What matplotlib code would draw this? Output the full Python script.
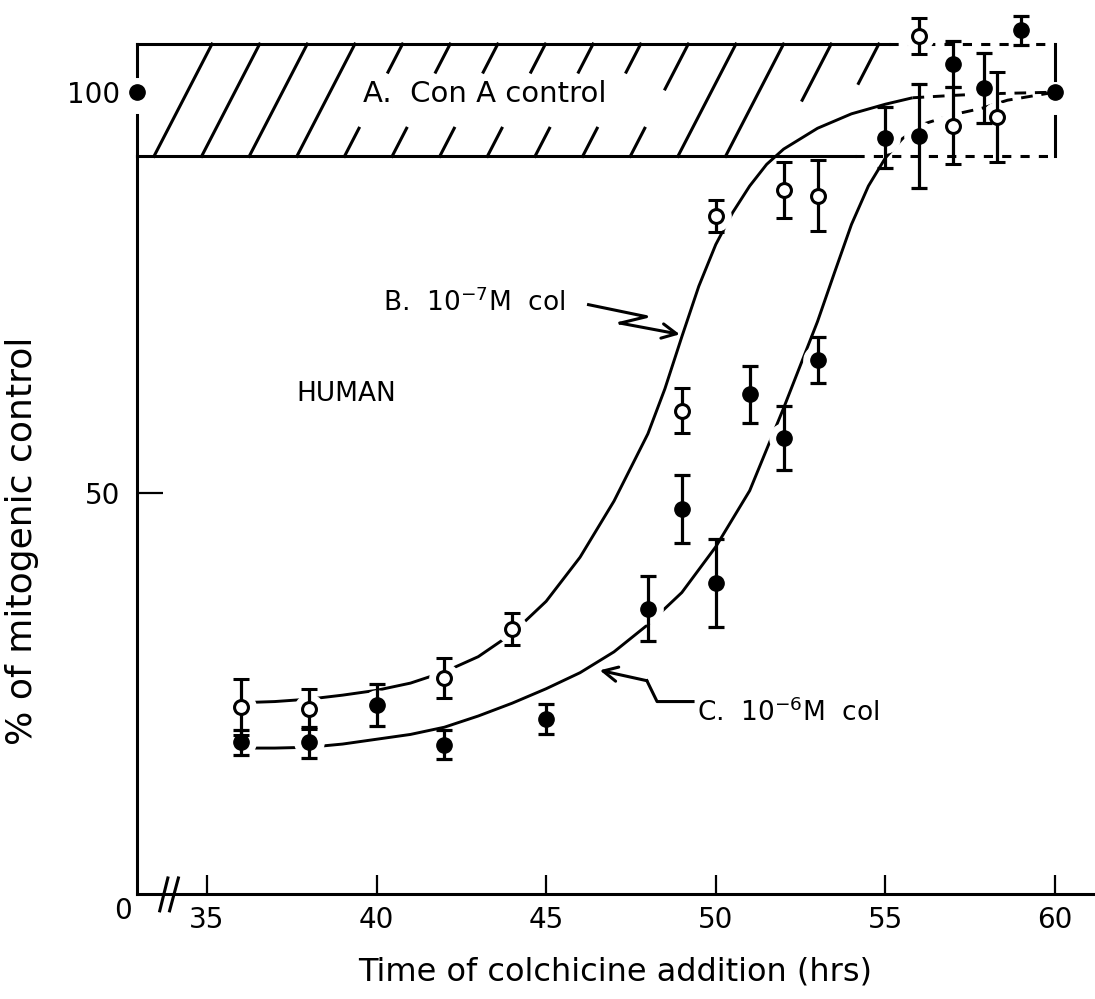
import matplotlib
matplotlib.use('Agg')
import matplotlib.pyplot as plt

# ---------------- data ----------------
# B: 10^-7 M colchicine (open circles)
time_b = [36, 38, 42, 44, 49, 50, 52, 53, 56, 57, 58.3]
pct_b = [23.3, 23.1, 26.9, 33.0, 60.3, 84.6, 87.8, 87.1, 107.0, 95.8, 96.9]
err_b = [3.5, 2.5, 2.5, 2.0, 2.8, 2.0, 3.5, 4.4, 2.2, 4.8, 5.6]

# C: 10^-6 M colchicine (filled circles)
time_c = [36, 38, 40, 42, 45, 48, 49, 50, 51, 52, 53, 55, 56, 57, 57.9, 59]
pct_c = [18.9, 18.9, 23.6, 18.6, 21.8, 35.6, 48.0, 38.8, 62.3, 56.9, 66.6,
         94.3, 94.5, 103.5, 100.5, 107.7]
err_c = [1.6, 1.9, 2.6, 1.8, 1.9, 4.0, 4.2, 5.5, 3.5, 4.0, 2.9,
         3.8, 6.5, 2.9, 4.4, 1.8]

# A: Con A control (filled dots at 100 %)
control_pct = [100, 100]
control_time_right = 60

# hand-drawn fitted curves
curve_b_t = [36.3, 37, 38, 39, 40, 41, 42, 43, 44, 45, 46, 47, 48, 48.5, 49,
             49.5, 50, 50.5, 51, 51.5, 52, 53, 54, 55, 55.8]
curve_b_y = [23.9, 24.0, 24.3, 24.8, 25.4, 26.3, 27.7, 29.6, 32.5, 36.5, 42.0,
             49.0, 57.4, 63.0, 69.5, 75.8, 81.0, 85.0, 88.3, 91.0, 92.9, 95.5,
             97.3, 98.5, 99.3]
curve_b_dash_t = [55.8, 57, 58, 59, 60]
curve_b_dash_y = [99.3, 99.6, 99.8, 99.9, 100]

curve_c_t = [36.3, 37, 38, 39, 40, 41, 42, 43, 44, 45, 46, 47, 48, 49, 50, 51,
             52, 52.5, 53, 53.5, 54, 54.5, 55, 55.5, 56.1]
curve_c_y = [18.2, 18.2, 18.3, 18.7, 19.3, 19.9, 20.8, 22.2, 23.8, 25.6, 27.6,
             30.2, 33.6, 37.6, 43.3, 50.3, 60.6, 66.0, 71.4, 77.5, 83.5, 88.3,
             91.8, 94.2, 96.0]
curve_c_dash_t = [56.1, 57, 57.85, 58.6, 60]
curve_c_dash_y = [96.0, 97.2, 98.0, 99.0, 100]

band_low, band_high = 92, 106
xticks = [35, 40, 45, 50, 55, 60]
yticks = [50, 100]

XMIN, XMAX = 32.94, 61.12
YMIN, YMAX = 0, 110

# ---------------- figure ----------------
plt.rcParams['font.family'] = ['DejaVu Sans']
fig = plt.figure(figsize=(10.95, 9.99), dpi=100)
ax = fig.add_axes([137 / 1095, 105 / 999, 956 / 1095, 882 / 999])
ax.set_xlim(XMIN, XMAX)
ax.set_ylim(YMIN, YMAX)

LW = 2.2
for s in ['top', 'right']:
    ax.spines[s].set_visible(False)
ax.spines['left'].set_bounds(0, band_low)
ax.spines['left'].set_linewidth(LW)
ax.spines['bottom'].set_linewidth(LW)

ax.set_xticks(xticks)
ax.set_xticklabels([str(t) for t in xticks])
ax.tick_params(axis='x', direction='in', length=14, width=1.6, labelsize=20, pad=9)
ax.set_yticks(yticks)
ax.set_yticklabels([str(t) for t in yticks])
ax.tick_params(axis='y', direction='in', length=19, width=1.6, labelsize=20, pad=12)
ax.yaxis.get_major_ticks()[1].tick1line.set_visible(False)

ax.annotate('0', xy=(0, 0), xycoords='axes fraction', xytext=(-10, -2),
            textcoords='offset points', ha='center', va='top', fontsize=20)

# axis break marks
ax.plot([33.61, 33.85], [-2.1, 2.0], color='black', lw=LW, clip_on=False)
ax.plot([33.90, 34.16], [-2.1, 2.0], color='black', lw=LW, clip_on=False)

ax.set_xlabel('Time of colchicine addition (hrs)', fontsize=23, labelpad=16)
ax.set_ylabel('% of mitogenic control', fontsize=26)
ax.yaxis.set_label_coords(-0.102, 0.40)

# ---------------- control band ----------------
kw = dict(color='black', lw=LW, clip_on=False, zorder=2)
ax.plot([XMIN, 55.1], [band_high, band_high], **kw)
ax.plot([55.1, 60], [band_high, band_high], ls=(0, (3, 3)), **kw)
ax.plot([XMIN, 54.1], [band_low, band_low], **kw)
ax.plot([54.1, 60], [band_low, band_low], ls=(0, (3, 3)), **kw)
ax.plot([XMIN, XMIN], [band_low, 97.2], **kw)
ax.plot([XMIN, XMIN], [102.0, band_high], **kw)
ax.plot([60, 60], [band_low, 97.0], **kw)
ax.plot([60, 60], [101.5, band_high], **kw)

# hatching of the band
hatch_start, hatch_step, hatch_dx = 33.44, 1.404, 1.71
hatch_parts = ([[(0, 1)]] * 4 + [[(0, 0.25), (0.75, 1)]] * 6 +
               [[(0, 0.25), (0.6, 1)]] + [[(0, 1)]] * 2 + [[(0.5, 1)]] + [[(0.65, 1)]])
for k, parts in enumerate(hatch_parts):
    x0 = hatch_start + k * hatch_step
    for f0, f1 in parts:
        ax.plot([x0 + f0 * hatch_dx, x0 + f1 * hatch_dx],
                [band_low + f0 * (band_high - band_low), band_low + f1 * (band_high - band_low)],
                color='black', lw=LW, zorder=2)

ax.text(39.6, 99.8, 'A.  Con A control', fontsize=21, ha='left', va='center', zorder=4)

# ---------------- curves ----------------
ckw = dict(color='black', lw=2.1, zorder=2, solid_capstyle='butt')
ax.plot(curve_b_t, curve_b_y, **ckw)
ax.plot(curve_b_dash_t, curve_b_dash_y, ls=(0, (4, 3)), **ckw)
ax.plot(curve_c_t, curve_c_y, **ckw)
ax.plot(curve_c_dash_t, curve_c_dash_y, ls=(0, (4, 3)), **ckw)

# white halos so lines break around the points
ax.plot(time_b + time_c, pct_b + pct_c, 'o', ms=21, color='white', zorder=3, clip_on=False)

# ---------------- data points ----------------
ax.errorbar(time_c, pct_c, yerr=err_c, fmt='o', color='black', ms=11,
            capsize=6, elinewidth=2.3, capthick=2.3, zorder=5, clip_on=False)
ax.errorbar(time_b, pct_b, yerr=err_b, fmt='o', color='black', mfc='white',
            mec='black', mew=2.2, ms=10, capsize=6, elinewidth=2.3,
            capthick=2.3, zorder=6, clip_on=False)
ax.plot([XMIN, control_time_right], control_pct, 'o', color='black', ms=11,
        zorder=7, clip_on=False)

# ---------------- annotations ----------------
ax.text(37.65, 62.4, 'HUMAN', fontsize=19, ha='left', va='center')
ax.text(40.2, 73.7, r'B.  10$^{-7}$M  col', fontsize=19, ha='left', va='center')
ax.plot([46.25, 47.96, 47.18], [73.5, 72.0, 71.2], color='black', lw=2.2)
ax.annotate('', xy=(48.94, 69.8), xytext=(47.18, 71.2),
            arrowprops=dict(arrowstyle='->', lw=2.2, mutation_scale=26,
                            shrinkA=0, shrinkB=0, color='black'))

ax.text(49.45, 22.6, r'C.  10$^{-6}$M  col', fontsize=19, ha='left', va='center')
ax.plot([49.33, 48.27, 47.97], [24.0, 24.0, 26.6], color='black', lw=2.2)
ax.annotate('', xy=(46.58, 27.9), xytext=(47.97, 26.6),
            arrowprops=dict(arrowstyle='->', lw=2.2, mutation_scale=26,
                            shrinkA=0, shrinkB=0, color='black'))

fig.savefig('out.png', dpi=100)
